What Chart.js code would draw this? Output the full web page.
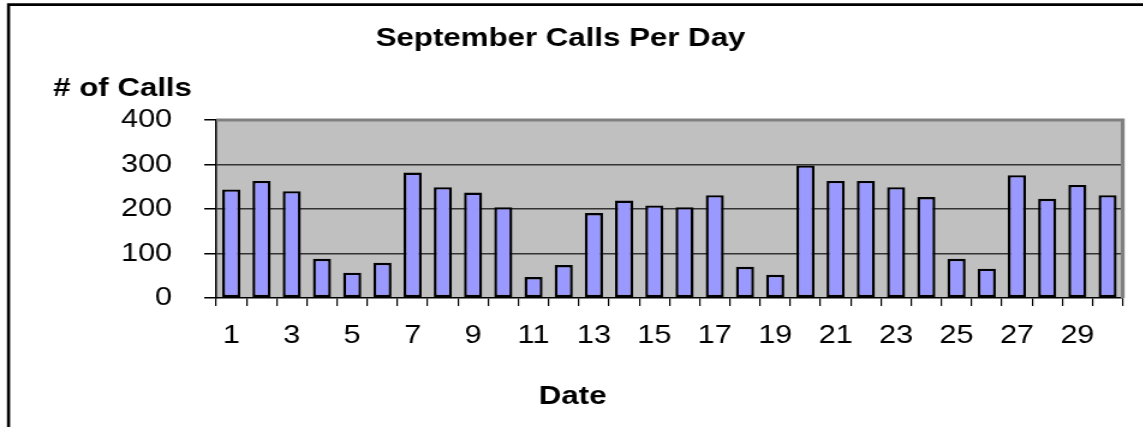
<!DOCTYPE html>
<html>
<head>
<meta charset="utf-8">
<script src="https://cdn.jsdelivr.net/npm/chart.js@4"></script>
<style>
    html, body { margin: 0; padding: 0; background: #fff; overflow: hidden; }
    /* the source picture is stretched sideways, so draw narrow and widen it */
    #wrap { width: 952.5px; height: 427px; transform: scaleX(1.2); transform-origin: 0 0; }
</style>
</head>
<body>
<div id="wrap"><canvas id="callsChart"></canvas></div>
<script>
const days = ['1', '2', '3', '4', '5', '6', '7', '8', '9', '10', '11', '12', '13', '14', '15',
    '16', '17', '18', '19', '20', '21', '22', '23', '24', '25', '26', '27', '28', '29', '30'];
const callsPerDay = [244, 263, 240, 88, 57, 79, 282, 249, 237, 204, 47, 74, 191, 219, 208,
    204, 231, 70, 52, 298, 263, 263, 249, 227, 88, 66, 276, 223, 254, 231];
const yTicks = [0, 100, 200, 300, 400];
const xTitle = 'Date';

const FONT = "'Liberation Sans', Arial, sans-serif";

// grey plot background, plot frame, outer border, x title
const plotFrame = {
    id: 'plotFrame',
    afterLayout(chart) {
        // title is centred on the whole picture, not on the plot
        if (chart.titleBlock) {
            chart.titleBlock.left = 0;
            chart.titleBlock.right = 933.3;
        }
    },
    beforeDraw(chart) {
        const { ctx, chartArea: a } = chart;
        ctx.save();
        ctx.fillStyle = '#c0c0c0';
        ctx.fillRect(a.left, a.top, a.right - a.left, a.bottom - a.top);
        ctx.restore();
    },
    afterDraw(chart) {
        const { ctx, chartArea: a, width, height } = chart;
        ctx.save();
        ctx.strokeStyle = '#808080';
        ctx.lineWidth = 3.2;
        ctx.beginPath();
        ctx.moveTo(a.left, a.top);
        ctx.lineTo(a.right, a.top);
        ctx.lineTo(a.right, a.bottom);
        ctx.stroke();
        // outer chart border (only left and top are in view)
        ctx.strokeStyle = '#000';
        ctx.lineWidth = 2.6;
        ctx.beginPath();
        ctx.moveTo(7.1, height);
        ctx.lineTo(7.1, 4.6);
        ctx.lineTo(width, 4.6);
        ctx.stroke();
        // axis title under the day labels
        ctx.fillStyle = '#000';
        ctx.font = 'bold 26px ' + FONT;
        ctx.textAlign = 'center';
        ctx.textBaseline = 'middle';
        ctx.fillText(xTitle, 476.7, 397);
        ctx.restore();
    }
};

const ctx = document.getElementById('callsChart').getContext('2d');
new Chart(ctx, {
    type: 'bar',
    data: {
        labels: days,
        datasets: [{
            label: 'Calls',
            data: callsPerDay,
            backgroundColor: '#9999ff',
            borderColor: '#000',
            borderWidth: 2.4,
            borderSkipped: false,
            barPercentage: 0.6,
            categoryPercentage: 1
        }]
    },
    options: {
        responsive: true,
        maintainAspectRatio: false,
        animation: false,
        layout: { padding: { left: 44.2, right: 17.9, top: 0, bottom: 0 } },
        plugins: {
            legend: { display: false },
            tooltip: { enabled: false },
            title: {
                display: true,
                text: 'September Calls Per Day',
                color: '#000',
                font: { family: FONT, size: 26, weight: 'bold' },
                padding: { top: 22.9, bottom: 19 }
            },
            subtitle: {
                display: true,
                text: '# of Calls',
                align: 'start',
                color: '#000',
                font: { family: FONT, size: 26, weight: 'bold' },
                padding: { top: 0, bottom: 15.7 }
            }
        },
        scales: {
            x: {
                offset: true,
                grid: {
                    offset: true,
                    drawOnChartArea: false,
                    tickLength: 8,
                    tickColor: '#000',
                    lineWidth: 1.2
                },
                border: { color: '#000', width: 1.5 },
                ticks: {
                    autoSkip: false,
                    maxRotation: 0,
                    padding: 15,
                    color: '#000',
                    font: { family: FONT, size: 25.5 },
                    callback: function (value, index) {
                        return index % 2 === 0 ? days[index] : '';
                    }
                },
                afterFit: function (scale) { scale.height = 129; }
            },
            y: {
                min: 0,
                max: 400,
                afterBuildTicks: function (scale) {
                    scale.ticks = yTicks.map(v => ({ value: v }));
                },
                grid: {
                    color: function (c) {
                        if (c.tick.value === 0) return 'rgba(0,0,0,0)';
                        if (c.tick.value === 400) return '#808080';
                        return '#333';
                    },
                    lineWidth: 1.5,
                    tickLength: 10,
                    tickColor: '#000'
                },
                border: { color: '#000', width: 1.5 },
                ticks: {
                    padding: 26.7,
                    color: '#000',
                    font: { family: FONT, size: 25.5 }
                },
                afterFit: function (scale) { scale.width = 135.8; }
            }
        }
    },
    plugins: [plotFrame]
});
</script>
</body>
</html>
